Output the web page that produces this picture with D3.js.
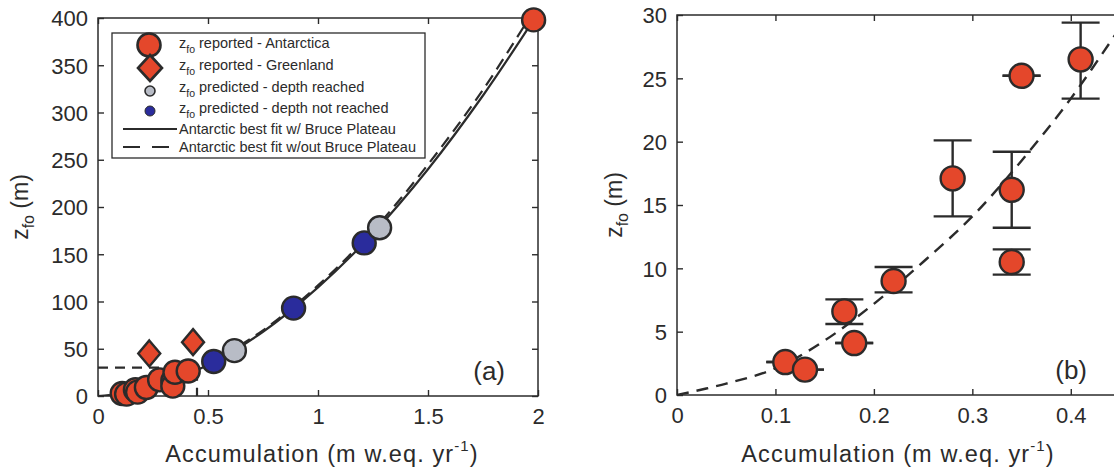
<!DOCTYPE html>
<html>
<head>
<meta charset="utf-8">
<script src="https://cdn.jsdelivr.net/npm/d3@7"></script>
<style>
  body { margin: 0; background: #fff; }
  text { font-family: "Liberation Sans", Arial, Helvetica, sans-serif; fill: #2b2b2b; }
</style>
</head>
<body>
<svg id="chart" width="1114" height="468"></svg>
<script>
// Reported Antarctic firn–ice transition depths (accumulation in m w.eq./yr, depth in m)
const antAccum   = [0.11, 0.13, 0.17, 0.18, 0.22, 0.28, 0.34, 0.34, 0.35, 0.41];
const antDepth   = [2.6, 2.0, 6.6, 4.1, 9.0, 17.1, 16.2, 10.5, 25.2, 26.5];
const antErrLow  = [2.6, 2.0, 5.6, 4.1, 8.1, 14.1, 13.2, 9.5, 25.2, 23.4];
const antErrHigh = [2.6, 2.0, 7.55, 4.1, 10.1, 20.1, 19.2, 11.5, 25.2, 29.4];
// Bruce Plateau (Antarctic Peninsula)
const bruceAccum = [1.98];
const bruceDepth = [398];
// Greenland reported depths
const grnAccum = [0.233, 0.432];
const grnDepth = [45, 57];
// Predicted depths
const reachedAccum = [0.62, 1.28];
const reachedDepth = [48, 178];
const notReachedAccum = [0.526, 0.889, 1.21];
const notReachedDepth = [36.5, 93, 162];
// Best-fit curves
const fitAccumWith = [0.1, 0.25, 0.5, 0.75, 1.0, 1.25, 1.5, 1.75, 1.98];
const fitDepthWith = [1.7, 9.8, 32.7, 68, 115, 172, 240, 318, 398];
const fitAccumWithout = [0, 0.05, 0.1, 0.15, 0.2, 0.25, 0.3, 0.35, 0.4, 0.45, 0.5, 0.75, 1.0, 1.25, 1.5, 1.75, 1.96];
const fitDepthWithout = [0, 0.9, 2.1, 4.3, 7.2, 10.5, 14.1, 18.5, 23.4, 29.0, 34.0, 69.5, 117, 175, 245, 324, 400];
// Zoom window of panel (b) drawn on panel (a)
const zoomBoxAccum = 0.45;
const zoomBoxDepth = 30;

// Axis ticks
const aXTicks = [0, 0.5, 1, 1.5, 2];
const aXTickLabels = ["0", "0.5", "1", "1.5", "2"];
const aYTicks = [0, 50, 100, 150, 200, 250, 300, 350, 400];
const aYTickLabels = ["0", "50", "100", "150", "200", "250", "300", "350", "400"];
const bXTicks = [0, 0.1, 0.2, 0.3, 0.4];
const bXTickLabels = ["0", "0.1", "0.2", "0.3", "0.4"];
const bYTicks = [0, 5, 10, 15, 20, 25, 30];
const bYTickLabels = ["0", "5", "10", "15", "20", "25", "30"];

const legendLabels = [
  "reported - Antarctica",
  "reported - Greenland",
  "predicted - depth reached",
  "predicted - depth not reached",
  "Antarctic best fit w/ Bruce Plateau",
  "Antarctic best fit w/out Bruce Plateau"
];

const ink = "#2b2b2b";
const cOrange = "#e4472b";
const cBlue = "#2a2c9c";
const cGray = "#b8bcc6";

const svg = d3.select("#chart");

const xa = d3.scaleLinear().domain([0, 2]).range([98, 538]);
const ya = d3.scaleLinear().domain([0, 400]).range([396, 18]);
const xb = d3.scaleLinear().domain([0, 0.45]).range([677, 1120]);
const yb = d3.scaleLinear().domain([0, 30]).range([395, 15]);

function frame(x, y, xTicks, xLabels, yTicks, yLabels, id) {
  const [l, r] = x.range(), [b, t] = y.range();
  const g = svg.append("g");
  const tick = 6;
  const style = sel => {
    sel.select(".domain").remove();
    sel.selectAll(".tick line").attr("stroke", ink).attr("stroke-width", 1.4);
  };
  g.append("g").attr("transform", `translate(0,${b})`)
    .call(d3.axisBottom(x).tickValues(xTicks).tickFormat((d, i) => xLabels[i]).tickSize(-tick).tickPadding(0))
    .call(style)
    .call(s => s.selectAll("text").attr("y", 28).attr("dy", null)
      .attr("font-size", 22).attr("font-family", null).attr("fill", ink));
  g.append("g").attr("transform", `translate(${l},0)`)
    .call(d3.axisLeft(y).tickValues(yTicks).tickFormat((d, i) => yLabels[i]).tickSize(-tick).tickPadding(10))
    .call(style)
    .call(s => s.selectAll("text").attr("dy", "0.36em")
      .attr("font-size", 22).attr("font-family", null).attr("fill", ink));
  g.append("g").attr("transform", `translate(0,${t})`)
    .call(d3.axisTop(x).tickValues(xTicks).tickFormat("").tickSize(-tick))
    .call(style);
  g.append("g").attr("transform", `translate(${r},0)`)
    .call(d3.axisRight(y).tickValues(yTicks).tickFormat("").tickSize(-tick))
    .call(style);
  g.append("rect").attr("x", l).attr("y", t).attr("width", r - l).attr("height", b - t)
    .attr("fill", "none").attr("stroke", ink).attr("stroke-width", 1.5);

  svg.append("clipPath").attr("id", id)
    .append("rect").attr("x", l).attr("y", t).attr("width", r - l).attr("height", b - t);
}

function yTitle(cx, cy) {
  const t = svg.append("text")
    .attr("transform", `translate(${cx},${cy}) rotate(-90)`)
    .attr("text-anchor", "middle").attr("font-size", 23);
  t.append("tspan").text("z");
  t.append("tspan").attr("font-size", 16).attr("dy", 6).text("fo");
  t.append("tspan").attr("dy", -6).text(" (m)");
}

function xTitle(cx, by) {
  const t = svg.append("text").attr("x", cx).attr("y", by)
    .attr("text-anchor", "middle").attr("font-size", 23.5).attr("letter-spacing", 1.1);
  t.append("tspan").text("Accumulation (m w.eq. yr");
  t.append("tspan").attr("font-size", 15).attr("dy", -11).text("-1");
  t.append("tspan").attr("dy", 11).text(")");
}

const line = (x, y) => d3.line().x(d => x(d[0])).y(d => y(d[1])).curve(d3.curveCatmullRom.alpha(0.5));

function circles(g, x, y, xs, ys, fill, r) {
  g.selectAll(null).data(xs.map((d, i) => [d, ys[i]])).join("circle")
    .attr("cx", d => x(d[0])).attr("cy", d => y(d[1])).attr("r", r)
    .attr("fill", fill).attr("stroke", ink).attr("stroke-width", 2.4);
}

// ---------- Panel (a) ----------
frame(xa, ya, aXTicks, aXTickLabels, aYTicks, aYTickLabels, "clipA");
const pa = svg.append("g").attr("clip-path", "url(#clipA)");

pa.append("path")
  .attr("d", d3.line().x(d => xa(d[0])).y(d => ya(d[1]))([[0, zoomBoxDepth], [zoomBoxAccum, zoomBoxDepth], [zoomBoxAccum, 0]]))
  .attr("fill", "none").attr("stroke", ink).attr("stroke-width", 2.2).attr("stroke-dasharray", "10,7");

pa.append("path")
  .attr("d", line(xa, ya)(fitAccumWithout.map((d, i) => [d, fitDepthWithout[i]])))
  .attr("fill", "none").attr("stroke", ink).attr("stroke-width", 2.2).attr("stroke-dasharray", "12,7");
pa.append("path")
  .attr("d", line(xa, ya)(fitAccumWith.map((d, i) => [d, fitDepthWith[i]])))
  .attr("fill", "none").attr("stroke", ink).attr("stroke-width", 2.2);

const ma = svg.append("g");
circles(ma, xa, ya, antAccum, antDepth, cOrange, 11.5);
ma.selectAll(null).data(grnAccum.map((d, i) => [d, grnDepth[i]])).join("path")
  .attr("d", d => {
    const cx = xa(d[0]), cy = ya(d[1]);
    return `M${cx},${cy - 13}L${cx + 11},${cy}L${cx},${cy + 13}L${cx - 11},${cy}Z`;
  })
  .attr("fill", cOrange).attr("stroke", ink).attr("stroke-width", 2.4).attr("stroke-linejoin", "miter");
circles(ma, xa, ya, notReachedAccum, notReachedDepth, cBlue, 11.5);
circles(ma, xa, ya, reachedAccum, reachedDepth, cGray, 11.5);
circles(ma, xa, ya, bruceAccum, bruceDepth, cOrange, 11.5);

svg.append("text").attr("x", 505).attr("y", 380).attr("text-anchor", "end")
  .attr("font-size", 26).text("(a)");

// Legend
const lg = svg.append("g").attr("transform", "translate(112,33)");
lg.append("rect").attr("width", 313).attr("height", 125)
  .attr("fill", "#fff").attr("stroke", ink).attr("stroke-width", 1.3);
const rowBase = [15, 37, 59, 80, 101, 119];
const markY = [12, 35, 58, 78, 96, 114];
lg.append("circle").attr("cx", 37).attr("cy", markY[0]).attr("r", 11.5)
  .attr("fill", cOrange).attr("stroke", ink).attr("stroke-width", 2.6);
lg.append("path").attr("d", `M38,${markY[1] - 13}L50,${markY[1]}L38,${markY[1] + 13}L26,${markY[1]}Z`)
  .attr("fill", cOrange).attr("stroke", ink).attr("stroke-width", 2.6);
lg.append("circle").attr("cx", 38).attr("cy", markY[2]).attr("r", 5)
  .attr("fill", cGray).attr("stroke", ink).attr("stroke-width", 1.6);
lg.append("circle").attr("cx", 38).attr("cy", markY[3]).attr("r", 5)
  .attr("fill", cBlue).attr("stroke", ink).attr("stroke-width", 1);
lg.append("line").attr("x1", 11).attr("x2", 65).attr("y1", markY[4]).attr("y2", markY[4])
  .attr("stroke", ink).attr("stroke-width", 2.2);
lg.append("line").attr("x1", 11).attr("x2", 65).attr("y1", markY[5]).attr("y2", markY[5])
  .attr("stroke", ink).attr("stroke-width", 2.2).attr("stroke-dasharray", "17,12");
legendLabels.forEach((lab, i) => {
  const t = lg.append("text").attr("x", 67).attr("y", rowBase[i]).attr("font-size", 14.5);
  if (i < 4) {
    t.append("tspan").text("z");
    t.append("tspan").attr("font-size", 10.5).attr("dy", 5).text("fo");
    t.append("tspan").attr("dy", -5).text(" " + lab);
  } else {
    t.text(lab);
  }
});

yTitle(28, 207);
xTitle(322, 462);

// ---------- Panel (b) ----------
frame(xb, yb, bXTicks, bXTickLabels, bYTicks, bYTickLabels, "clipB");
const pb = svg.append("g").attr("clip-path", "url(#clipB)");
pb.append("path")
  .attr("d", line(xb, yb)(fitAccumWithout.slice(0, 10).map((d, i) => [d, fitDepthWithout[i]])))
  .attr("fill", "none").attr("stroke", ink).attr("stroke-width", 2.4).attr("stroke-dasharray", "12,8");

const eb = pb.append("g").attr("stroke", ink).attr("stroke-width", 2.4);
const cap = 19;
antAccum.forEach((a, i) => {
  const cx = xb(a);
  eb.append("line").attr("x1", cx).attr("x2", cx).attr("y1", yb(antErrLow[i])).attr("y2", yb(antErrHigh[i]));
  eb.append("line").attr("x1", cx - cap).attr("x2", cx + cap).attr("y1", yb(antErrLow[i])).attr("y2", yb(antErrLow[i]));
  eb.append("line").attr("x1", cx - cap).attr("x2", cx + cap).attr("y1", yb(antErrHigh[i])).attr("y2", yb(antErrHigh[i]));
});
circles(pb, xb, yb, antAccum, antDepth, cOrange, 12);

svg.append("text").attr("x", 1087).attr("y", 379).attr("text-anchor", "end")
  .attr("font-size", 26).text("(b)");

yTitle(622, 205);
xTitle(898, 462);
</script>
</body>
</html>
